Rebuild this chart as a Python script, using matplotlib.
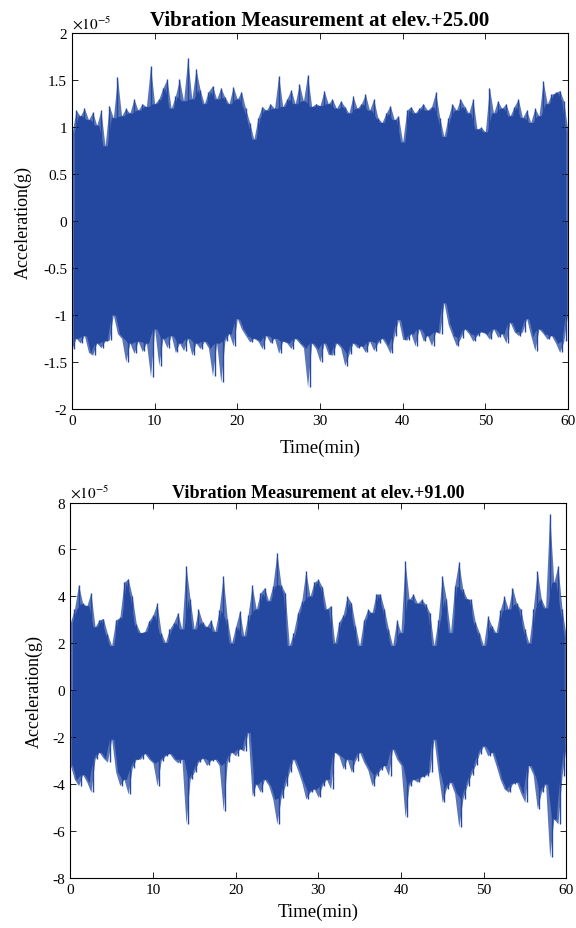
import numpy as np
import matplotlib
matplotlib.use('Agg')
import matplotlib.pyplot as plt
from matplotlib.ticker import FuncFormatter

plt.rcParams['font.family'] = 'Liberation Serif'
plt.rcParams['mathtext.fontset'] = 'stix'
plt.rcParams['axes.unicode_minus'] = False

# peak values read every 0.5 min (units of 1e-5 g)
t = np.linspace(0, 60, 121)

up_25 = [0.94, 1.18, 1.12, 1.20, 1.08, 1.16, 1.02, 1.18, 0.80, 1.23,
         1.10, 1.53, 1.12, 1.20, 1.15, 1.30, 1.18, 1.25, 1.22, 1.65,
         1.25, 1.30, 1.42, 1.51, 1.20, 1.33, 1.51, 1.28, 1.74, 1.30,
         1.62, 1.40, 1.25, 1.38, 1.44, 1.30, 1.42, 1.32, 1.25, 1.43,
         1.30, 1.38, 1.20, 1.05, 0.87, 1.10, 1.22, 1.18, 1.25, 1.20,
         1.55, 1.22, 1.30, 1.40, 1.25, 1.46, 1.28, 1.56, 1.22, 1.25,
         1.23, 1.39, 1.25, 1.30, 1.20, 1.28, 1.22, 1.15, 1.33, 1.20,
         1.25, 1.35, 1.18, 1.30, 1.10, 1.05, 1.15, 1.23, 1.08, 1.12,
         0.84, 1.18, 1.22, 1.15, 1.20, 1.25, 1.18, 1.22, 1.37, 1.10,
         0.90, 1.10, 1.25, 1.18, 1.30, 1.22, 1.15, 1.30, 0.98, 1.00,
         0.95, 1.42, 1.15, 1.28, 1.20, 1.25, 1.12, 1.22, 1.30, 1.10,
         1.18, 1.05, 1.20, 1.12, 1.49, 1.25, 1.35, 1.37, 1.39, 1.28,
         0.95]
lo_25 = [-1.36, -1.25, -1.30, -1.22, -1.40, -1.43, -1.30, -1.35, -1.28, -1.27,
         -1.00, -1.20, -1.25, -1.50, -1.30, -1.41, -1.28, -1.39, -1.30, -1.66,
         -1.15, -1.54, -1.25, -1.35, -1.22, -1.40, -1.30, -1.38, -1.25, -1.43,
         -1.30, -1.36, -1.28, -1.35, -1.65, -1.30, -1.72, -1.28, -1.20, -1.33,
         -1.04, -1.15, -1.22, -1.29, -1.25, -1.28, -1.36, -1.22, -1.30, -1.25,
         -1.41, -1.28, -1.30, -1.36, -1.25, -1.30, -1.35, -1.77, -1.30, -1.36,
         -1.50, -1.30, -1.42, -1.43, -1.30, -1.35, -1.54, -1.42, -1.30, -1.35,
         -1.33, -1.40, -1.28, -1.38, -1.30, -1.25, -1.32, -1.41, -1.22, -1.05,
         -1.26, -1.27, -1.20, -1.33, -1.15, -1.28, -1.22, -1.33, -1.18, -1.20,
         -0.87, -1.10, -1.22, -1.33, -1.25, -1.15, -1.20, -1.28, -1.22, -1.18,
         -1.20, -1.26, -1.15, -1.24, -1.20, -1.30, -1.08, -1.18, -1.22, -1.18,
         -1.04, -1.22, -1.38, -1.15, -1.20, -1.26, -1.22, -1.30, -1.40, -1.28,
         -0.97]

up_91 = [2.88, 3.45, 4.50, 3.70, 3.60, 4.15, 2.70, 3.00, 3.05, 2.40,
         1.90, 3.00, 3.10, 4.60, 4.75, 4.00, 2.80, 2.45, 2.50, 2.95,
         3.20, 3.70, 2.45, 2.03, 2.60, 2.88, 3.30, 2.60, 5.30, 3.87,
         2.60, 3.45, 2.90, 2.70, 3.00, 2.50, 3.40, 4.87, 3.02, 2.00,
         2.70, 3.38, 2.30, 3.20, 4.47, 3.45, 4.15, 4.37, 3.80, 4.44,
         5.86, 4.50, 4.15, 1.90, 2.45, 3.30, 3.80, 5.08, 4.00, 4.60,
         4.72, 4.40, 3.45, 3.60, 2.00, 2.90, 3.20, 4.00, 3.73, 2.74,
         1.90, 3.00, 3.45, 3.30, 4.10, 4.10, 3.45, 2.60, 1.90, 3.00,
         2.45, 5.50, 3.87, 4.10, 3.70, 3.87, 3.66, 3.30, 1.90, 3.00,
         4.87, 3.87, 2.45, 4.44, 5.46, 4.30, 3.90, 3.87, 2.90, 2.45,
         1.90, 3.16, 2.74, 2.45, 3.40, 4.00, 3.45, 4.37, 3.70, 3.45,
         2.60, 2.00, 3.45, 5.08, 3.87, 3.50, 7.53, 4.60, 5.30, 3.45,
         2.30]
lo_91 = [-3.20, -3.80, -4.07, -3.60, -3.92, -4.35, -2.94, -2.65, -2.90, -3.07,
         -2.09, -3.50, -4.07, -3.80, -4.43, -3.30, -2.94, -2.94, -2.70, -2.94,
         -3.10, -4.07, -3.00, -2.80, -2.70, -2.94, -3.10, -2.94, -5.70, -3.80,
         -3.49, -3.07, -2.90, -3.21, -3.00, -2.94, -3.20, -5.13, -3.07, -2.65,
         -2.80, -2.50, -2.60, -1.80, -4.50, -4.00, -4.35, -3.80, -4.07, -4.64,
         -5.70, -4.60, -4.07, -3.50, -2.94, -3.40, -3.92, -4.64, -4.35, -4.21,
         -4.57, -4.07, -3.80, -4.21, -2.65, -2.80, -3.35, -2.94, -3.49, -3.00,
         -2.65, -3.07, -3.40, -4.07, -3.64, -3.40, -3.21, -3.64, -2.51, -2.94,
         -3.20, -5.42, -4.07, -3.80, -3.92, -3.70, -3.64, -3.49, -2.09, -3.50,
         -4.78, -4.20, -3.92, -4.40, -5.84, -4.64, -4.07, -3.60, -3.21, -2.70,
         -2.38, -2.80, -2.65, -3.20, -3.80, -4.21, -4.35, -4.00, -3.92, -4.40,
         -4.78, -3.21, -3.60, -5.06, -4.35, -4.00, -7.12, -5.49, -5.70, -3.64,
         -2.38]

titles = ['Vibration Measurement at elev.+25.00', 'Vibration Measurement at elev.+91.00']
ylims = [(-2, 2), (-8, 8)]
yticks = [np.arange(-2, 2.01, 0.5), np.arange(-8, 8.01, 2)]
xticks = [0, 10, 20, 30, 40, 50, 60]

color = '#2448a0'

fig = plt.figure(figsize=(5.76, 9.29), dpi=100)
ax1 = fig.add_axes([0.125, 0.559, 0.861, 0.404])
ax2 = fig.add_axes([0.122, 0.054, 0.861, 0.404])

settings = [(ax1, up_25, lo_25, 15, 6, 9, -0.08),
            (ax2, up_91, lo_91, 13, 4, 5, -0.055)]

tm = t[:-1] + 0.25
for (ax, up, lo, tsize, tpad, xpad, ylx), title, yl, yt in zip(settings, titles, ylims, yticks):
    up = np.asarray(up)
    lo = np.asarray(lo)
    # fuzz band through the peaks, solid core under the lower of two neighbours, then spikes
    ax.fill_between(t, lo, up, color=color, alpha=0.75, lw=0)
    ax.fill_between(tm, np.maximum(lo[:-1], lo[1:]), np.minimum(up[:-1], up[1:]),
                    color=color, lw=0)
    ax.vlines(t, 0, up, color=color, lw=1.0)
    ax.vlines(t + 0.25, lo, 0, color=color, lw=1.0)
    ax.set_xlim(0, 60)
    ax.set_ylim(*yl)
    ax.set_xticks(xticks)
    ax.set_yticks(yt)
    ax.yaxis.set_major_formatter(FuncFormatter(lambda v, p: '%g' % v))
    ax.tick_params(direction='in', top=True, right=True, labelsize=11, length=4, width=0.6)
    for s in ax.spines.values():
        s.set_linewidth(0.8)
    ax.set_xlabel('Time(min)', fontsize=13.5, labelpad=xpad)
    ax.set_ylabel('Acceleration(g)', fontsize=13)
    ax.yaxis.set_label_coords(ylx, 0.5)
    ax.set_title(title, fontsize=tsize, fontweight='bold', pad=tpad)
    ax.text(0.0, 1.005, r'$\times10^{-5}$', transform=ax.transAxes, fontsize=11,
            ha='left', va='bottom')

fig.savefig('out.png', dpi=100)
